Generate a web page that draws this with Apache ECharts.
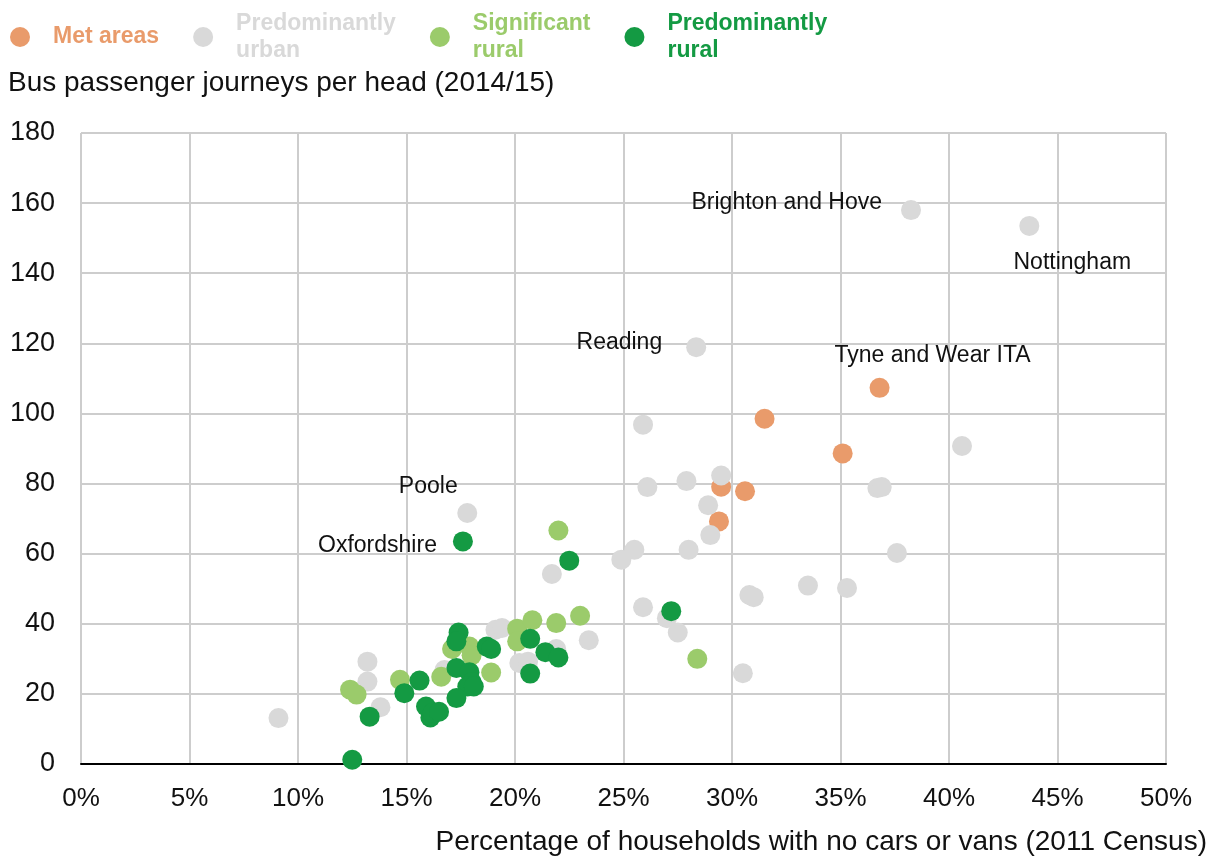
<!DOCTYPE html>
<html>
<head>
<meta charset="utf-8">
<script src="https://cdn.jsdelivr.net/npm/echarts@6/dist/echarts.min.js"></script>
<style>
  html, body { margin: 0; padding: 0; background: #fff; }
  #chart { width: 1212px; height: 857px; }
</style>
</head>
<body>
<div id="chart"></div>
<script>
// [% of households with no car, bus journeys per head, optional label]
const metAreas = [
  [29.4, 69.2], [29.5, 79.1], [30.6, 77.8], [31.5, 98.5], [35.1, 88.6],
  [36.8, 107.3, 'Tyne and Wear ITA']
]
const predUrban = [
  [9.1, 13.1], [13.2, 29.2], [13.2, 23.5], [13.8, 16.2], [16.75, 26.8],
  [19.1, 38.3], [19.4, 38.8], [21.9, 32.8], [23.4, 35.3], [20.2, 28.8], [20.6, 29.2],
  [21.7, 54.2], [25.9, 96.8], [26.1, 79.0], [27.9, 80.7], [24.9, 58.3], [25.5, 61.1],
  [28.0, 61.1], [28.9, 73.8], [29.0, 65.3], [29.5, 82.3], [36.7, 78.7], [36.9, 79.0],
  [37.6, 60.2], [25.9, 44.7], [27.0, 41.6], [27.5, 37.5], [30.5, 25.9], [30.8, 48.2],
  [31.0, 47.6], [33.5, 50.9], [35.3, 50.2], [40.6, 90.7],
  [38.25, 158.0, 'Brighton and Hove'], [43.7, 153.5, 'Nottingham'],
  [28.35, 118.9, 'Reading'], [17.8, 71.6, 'Poole']
]
const sigRural = [
  [12.4, 21.2], [12.7, 19.8], [14.7, 24.0], [16.6, 24.9], [17.1, 32.8], [17.9, 33.5],
  [18.0, 31.0], [18.9, 26.1], [20.1, 38.6], [20.1, 35.0], [20.8, 41.0], [21.9, 40.2],
  [23.0, 42.3], [22.0, 66.6], [28.4, 30.0]
]
const predRural = [
  [12.5, 1.2], [13.3, 13.5], [14.9, 20.2], [15.6, 23.8], [15.9, 16.4], [16.1, 13.3],
  [16.2, 14.6], [16.5, 14.9], [17.3, 27.4], [17.9, 26.2], [18.0, 23.4], [17.8, 22.1],
  [18.1, 22.1], [17.3, 18.8], [17.4, 37.5], [17.3, 35.0], [18.7, 33.5], [18.9, 32.8],
  [20.7, 35.7], [20.7, 25.8], [21.4, 31.9], [22.0, 30.4], [22.5, 58.0], [27.2, 43.6],
  [17.6, 63.5, 'Oxfordshire']
]
const seriesNames = ['Met areas', 'Predominantly urban', 'Significant rural', 'Predominantly rural']
const xTicks = { min: 0, max: 50, interval: 5 }
const yTicks = { min: 0, max: 180, interval: 20 }

const font = '"Liberation Sans", Arial, sans-serif'
const colors = ['#E99B6B', '#D9D9D9', '#9BCB6B', '#149A43']
// where each annotation sits relative to its dot
const labelPos = {
  'Tyne and Wear ITA': { position: 'top', offset: [53, -6] },
  'Brighton and Hove': { position: 'left', offset: [-14, -7] },
  'Nottingham': { position: 'bottom', offset: [43, 10] },
  'Reading': { position: 'left', offset: [-19, -5] },
  'Poole': { position: 'top', offset: [-39, 0] },
  'Oxfordshire': { position: 'left', offset: [-11, 4] }
}

const toData = (rows) => rows.map(([x, y, name]) => {
  if (!name) return [x, y]
  return {
    name,
    value: [x, y],
    label: {
      show: true,
      formatter: name,
      color: '#111',
      fontSize: 23,
      fontFamily: font,
      ...labelPos[name]
    }
  }
})

const chart = echarts.init(document.getElementById('chart'))
chart.setOption({
  backgroundColor: '#fff',
  animation: false,
  color: colors,
  grid: { left: 81, right: 46, top: 133, bottom: 93 },
  legend: {
    left: 5,
    top: 5,
    icon: 'circle',
    itemWidth: 20,
    itemHeight: 20,
    itemGap: 34,
    textStyle: {
      fontSize: 23,
      fontWeight: 'bold',
      fontFamily: font,
      lineHeight: 27,
      padding: [0, 0, 0, 18]
    },
    formatter: (name) => name === 'Met areas' ? name : name.replace(' ', '\n'),
    data: seriesNames.map((name, i) => ({ name, textStyle: { color: colors[i] } }))
  },
  xAxis: {
    type: 'value',
    ...xTicks,
    axisLine: { show: true, onZero: false, lineStyle: { color: '#000', width: 2 } },
    axisTick: { show: false },
    axisLabel: {
      margin: 22,
      fontSize: 26,
      color: '#111',
      fontFamily: font,
      formatter: (v) => v + '%'
    },
    splitLine: {
      show: true,
      showMinLine: true,
      showMaxLine: true,
      lineStyle: { color: '#CDCDCD', width: 2 }
    }
  },
  yAxis: {
    type: 'value',
    ...yTicks,
    axisLine: { show: false },
    axisTick: { show: false },
    axisLabel: { margin: 26, fontSize: 27, color: '#111', fontFamily: font },
    splitLine: {
      show: true,
      showMinLine: false,
      showMaxLine: true,
      lineStyle: { color: '#CDCDCD', width: 2 }
    }
  },
  graphic: [
    {
      type: 'text',
      left: 8,
      top: 69,
      style: { text: 'Bus passenger journeys per head (2014/15)', font: '28px ' + font, fill: '#111' }
    },
    {
      type: 'text',
      right: 5,
      top: 828,
      style: { text: 'Percentage of households with no cars or vans (2011 Census)', font: '28px ' + font, fill: '#111' }
    }
  ],
  series: [metAreas, predUrban, sigRural, predRural].map((rows, i) => ({
    name: seriesNames[i],
    type: 'scatter',
    symbolSize: 20,
    itemStyle: { color: colors[i], opacity: 1 },
    emphasis: { disabled: true },
    data: toData(rows)
  }))
})
window.addEventListener('resize', () => chart.resize())
</script>
</body>
</html>
